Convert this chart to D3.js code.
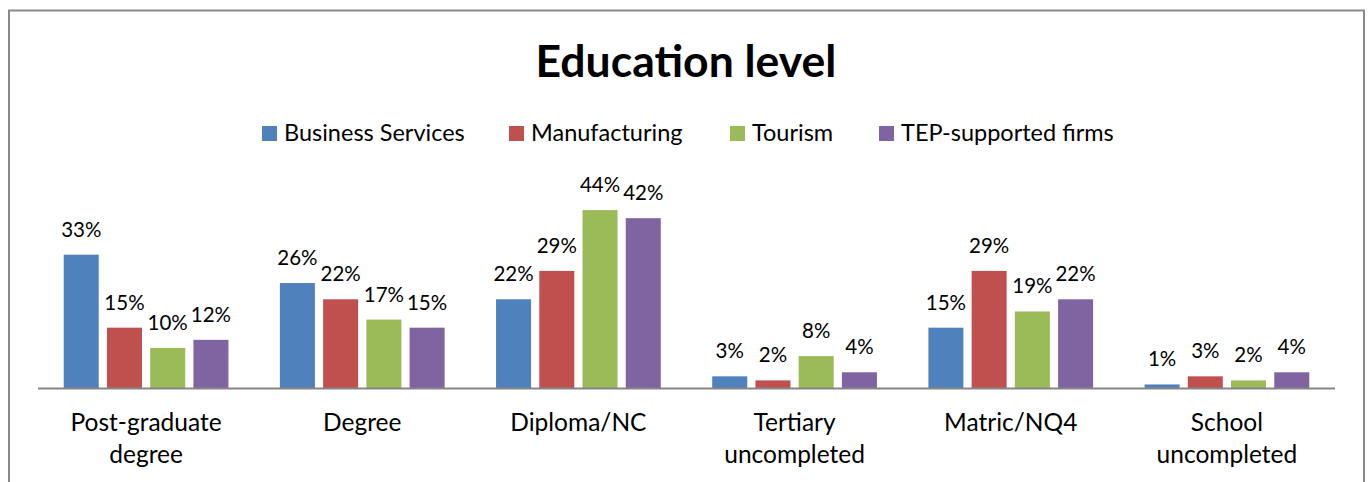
<!DOCTYPE html>
<html>
<head>
<meta charset="utf-8">
<script src="https://cdn.jsdelivr.net/npm/d3@7"></script>
<style>
  html, body { margin: 0; padding: 0; background: #fff; }
  svg { display: block; }
  text { font-family: Lato, "Noto Sans", sans-serif; fill: #000; }
</style>
</head>
<body>
<svg id="chart" width="1368" height="482"></svg>
<script>
// Education level by sector (share of employees)
const categories = [
  ["Post-graduate", "degree"],
  ["Degree"],
  ["Diploma/NC"],
  ["Tertiary", "uncompleted"],
  ["Matric/NQ4"],
  ["School", "uncompleted"]
];
const seriesNames = ["Business Services", "Manufacturing", "Tourism", "TEP-supported firms"];
const seriesColors = ["#4F81BD", "#C0504D", "#9BBB59", "#8064A2"];
const businessServices = [33, 26, 22, 3, 15, 1];
const manufacturing    = [15, 22, 29, 2, 29, 3];
const tourism          = [10, 17, 44, 8, 19, 2];
const tepSupported     = [12, 15, 42, 4, 22, 4];
const seriesValues = [businessServices, manufacturing, tourism, tepSupported];

const svg = d3.select("#chart");

// chart border (bottom edge falls below the visible area)
svg.append("rect")
  .attr("x", 9).attr("y", 10.5)
  .attr("width", 1355).attr("height", 520)
  .attr("fill", "#fff")
  .attr("stroke", "#8a8a8a").attr("stroke-width", 2);

// title
svg.append("text")
  .attr("x", 686).attr("y", 77)
  .attr("text-anchor", "middle")
  .style("font-size", "44.5px").style("font-weight", "bold")
  .text("Education level");

// plot geometry
const plot = { left: 38, right: 1335, baseline: 388.5 };
const cats = d3.range(categories.length);

const x0 = d3.scaleBand().domain(cats).range([plot.left, plot.right]).paddingInner(0.238).paddingOuter(0.119);
const x1 = d3.scaleBand().domain(d3.range(seriesNames.length)).range([0, x0.bandwidth()]).paddingInner(0.19).paddingOuter(0);
const y = d3.scaleLinear().domain([0, 50]).range([plot.baseline, plot.baseline - 202.75]);

// legend
const legendX = [262, 509, 730, 879];
const legend = svg.append("g");
seriesNames.forEach((name, i) => {
  const g = legend.append("g").attr("transform", `translate(${legendX[i]},126)`);
  g.append("rect").attr("width", 15).attr("height", 15).attr("fill", seriesColors[i]);
  g.append("text").attr("x", 22).attr("y", 15)
    .style("font-size", "23.5px").text(name);
});

// bars and value labels
const groups = svg.append("g").selectAll("g")
  .data(cats).join("g")
  .attr("transform", c => `translate(${x0(c)},0)`);

seriesValues.forEach((vals, s) => {
  groups.append("rect")
    .attr("x", x1(s))
    .attr("y", c => y(vals[c]))
    .attr("width", x1.bandwidth())
    .attr("height", c => y(0) - y(vals[c]))
    .attr("fill", seriesColors[s]);
  groups.append("text")
    .attr("x", x1(s) + x1.bandwidth() / 2)
    .attr("y", c => y(vals[c]) - 18)
    .attr("text-anchor", "middle")
    .style("font-size", "20.5px")
    .text(c => vals[c] + "%");
});

// category axis
svg.append("line")
  .attr("x1", plot.left).attr("x2", plot.right)
  .attr("y1", plot.baseline).attr("y2", plot.baseline)
  .attr("stroke", "#868686").attr("stroke-width", 2);

const labels = svg.append("g").selectAll("text")
  .data(cats).join("text")
  .attr("x", c => x0(c) + x0.bandwidth() / 2)
  .attr("y", 431)
  .attr("text-anchor", "middle")
  .style("font-size", "24.5px");
labels.selectAll("tspan")
  .data(c => categories[c])
  .join("tspan")
  .attr("x", function() { return this.parentNode.getAttribute("x"); })
  .attr("dy", (d, i) => i === 0 ? 0 : 32)
  .text(d => d);
</script>
</body>
</html>
